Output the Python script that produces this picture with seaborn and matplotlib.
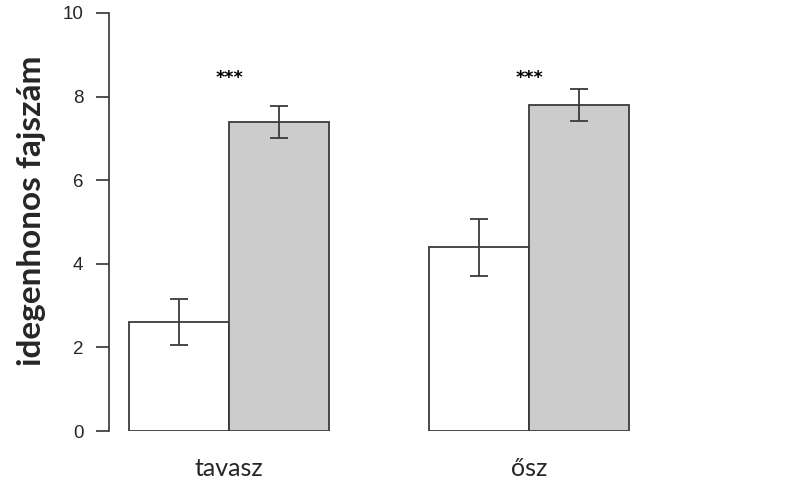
import matplotlib
matplotlib.use("Agg")
import matplotlib.pyplot as plt
import pandas as pd
import seaborn as sns

# data
seasons = ["tavasz", "ősz"]
groups = ["kontroll", "kezelt"]
means_ctrl = [2.6, 4.4]
means_trt = [7.4, 7.8]
se_ctrl = [0.55, 0.68]
se_trt = [0.38, 0.38]
stars = ["***", "***"]
star_y = 8.45
y_ticks = [0, 2, 4, 6, 8, 10]

df = pd.DataFrame({
    "season": seasons * 2,
    "group": [groups[0]] * 2 + [groups[1]] * 2,
    "mean": means_ctrl + means_trt,
    "se": se_ctrl + se_trt,
})

sns.set_theme(style="white")
plt.rcParams["font.family"] = ["Liberation Sans", "DejaVu Sans"]

W, H = 805, 483
fig = plt.figure(figsize=(W / 100, H / 100), dpi=100)
ax = fig.add_axes([109 / W, (H - 431) / H, 1 - 109 / W, (431 - 13) / H])

edge = "#3a3a3a"
palette = {groups[0]: "white", groups[1]: "#cccccc"}
sns.barplot(data=df, x="season", y="mean", hue="group", order=seasons,
            hue_order=groups, palette=palette, width=0.667, errorbar=None,
            edgecolor=edge, linewidth=1.3, saturation=1, legend=False, ax=ax)

# error bars at the centre of each drawn bar
for bar, (_, row) in zip(ax.patches, df.iterrows()):
    cx = bar.get_x() + bar.get_width() / 2
    ax.errorbar(cx, bar.get_height(), yerr=row["se"], fmt="none",
                ecolor=edge, elinewidth=1.3, capsize=6.5, capthick=1.3)

for i, s in enumerate(stars):
    ax.text(i, star_y, s, ha="center", va="center", fontsize=12.5,
            fontweight="bold", color="black", family="DejaVu Sans")

ax.set_xlim(-0.4, 1.92)
ax.set_ylim(0, 10)
ax.set_yticks(y_ticks)
ax.set_yticklabels([str(t) for t in y_ticks], fontsize=13.5)
ax.tick_params(axis="y", length=9.5, width=1.2, color="#333333", pad=9, left=True)
ax.tick_params(axis="x", length=0, pad=19)
ax.set_xticks(range(len(seasons)))
ax.set_xticklabels(seasons, fontsize=18, family="Lato")
ax.set_xlabel("")
ax.set_ylabel("")
for side in ["top", "right", "bottom"]:
    ax.spines[side].set_visible(False)
ax.spines["left"].set_color("#333333")
ax.spines["left"].set_linewidth(1.2)

fig.text(32 / W, 1 - 211 / H, "idegenhonos fajszám", rotation=90,
         ha="center", va="center", fontsize=24, fontweight="bold", family="Lato")

fig.savefig("out.png", dpi=100)
